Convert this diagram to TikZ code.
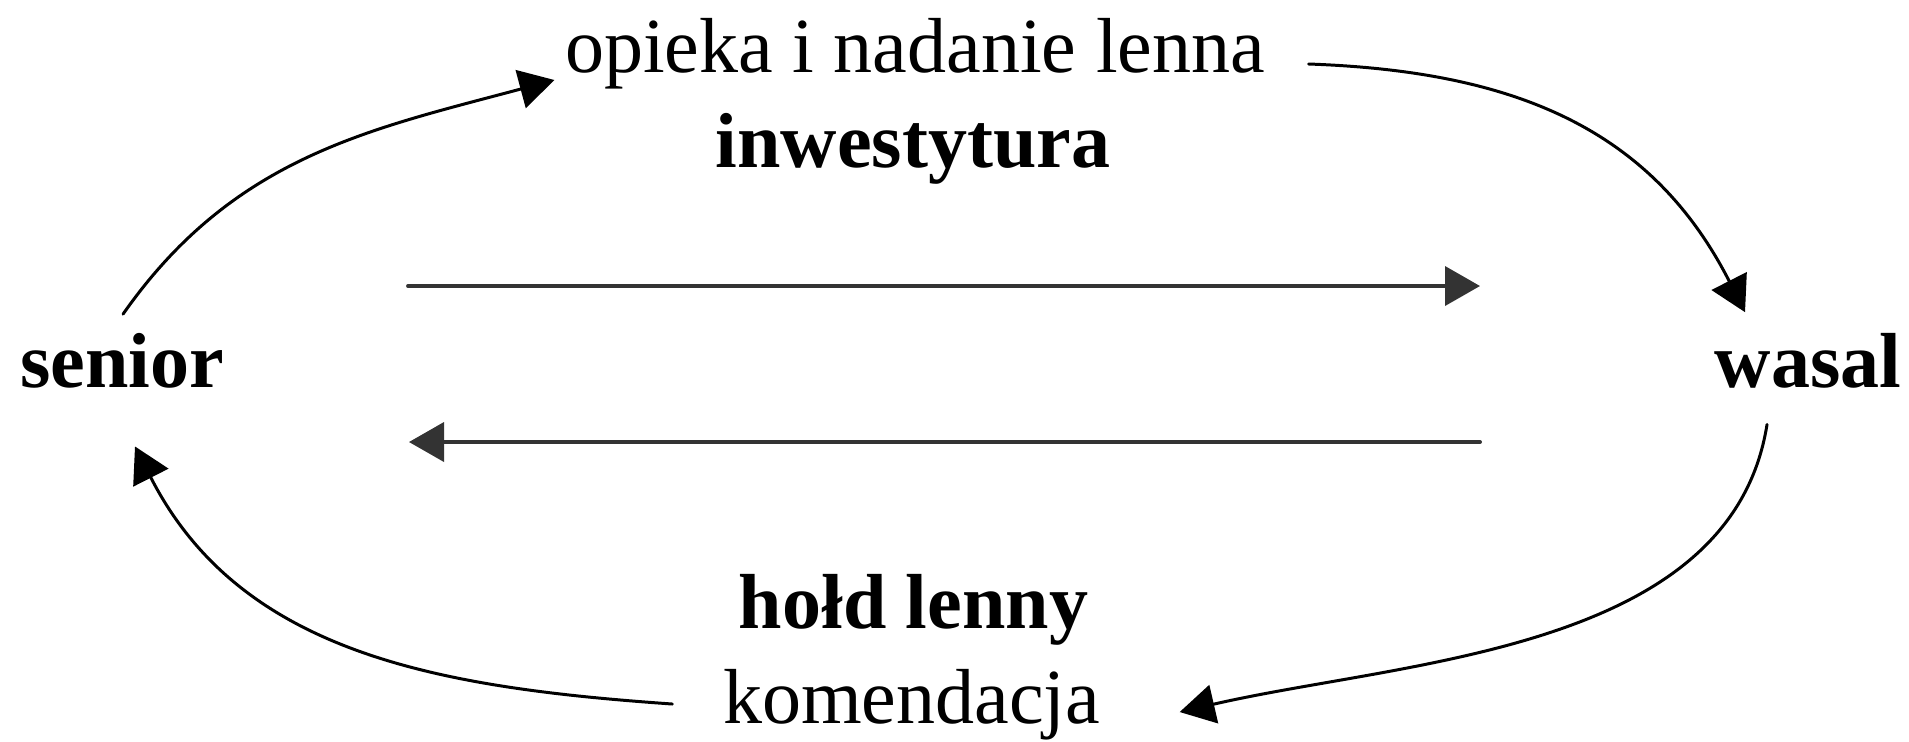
\documentclass[tikz,border=0pt]{standalone}
\usepackage{fontspec}
\setmainfont{Liberation Serif}
\usetikzlibrary{arrows.meta}
\begin{document}
\begin{tikzpicture}[>={Triangle[length=3.5mm,width=3.9mm]},line join=round,line cap=round,
		txt/.style={anchor=base,inner sep=0pt,font=\fontsize{22.2}{26}\selectfont},
		boldtxt/.style={txt,font=\fontsize{22.2}{26}\selectfont\bfseries},
		bar/.style={->,line width=1.1pt,black!80},
		swing/.style={->,line width=0.85pt}]
	\useasboundingbox (0,0) rectangle (19.09,-7.41);
	% texts
	\node[boldtxt] (senior) at (1.22,-3.87) {senior};
	\node[boldtxt] (wasal) at (18.08,-3.87) {wasal};
	\node[txt] (opieka) at (9.15,-0.72) {opieka i nadanie lenna};
	\node[boldtxt] (inwest) at (9.13,-1.67) {inwestytura};
	\node[boldtxt] (hold) at (9.135,-6.28) {hołd lenny};
	\node[txt] (komend) at (9.115,-7.23) {komendacja};
	% straight arrows
	\coordinate (topL) at (4.08,-2.86);
	\coordinate (topR) at (14.80,-2.86);
	\coordinate (botR) at (14.80,-4.42);
	\coordinate (botL) at (4.09,-4.42);
	\draw[bar] (topL) -- (topR);
	\draw[bar] (botR) -- (botL);
	% curved arrows
	\draw[swing] ([shift={(0.1mm,1.8mm)}]senior.north) to[out=55,in=195] ([shift={(-1mm,-0.8mm)}]opieka.base west);
	\draw[swing] ([shift={(4.3mm,0.8mm)}]opieka.base east) to[out=-2,in=117,looseness=1.05] ([shift={(-6.3mm,2mm)}]wasal.north);
	\draw[swing] ([shift={(-4.1mm,-3.6mm)}]wasal.south) to[out=-99,in=13,looseness=0.9] ([shift={(7.9mm,1.1mm)}]komend.base east);
	\draw[swing] ([shift={(-5mm,1.9mm)}]komend.base west) to[out=176,in=-63] ([shift={(1.3mm,-5.8mm)}]senior.south);
\end{tikzpicture}
\end{document}
